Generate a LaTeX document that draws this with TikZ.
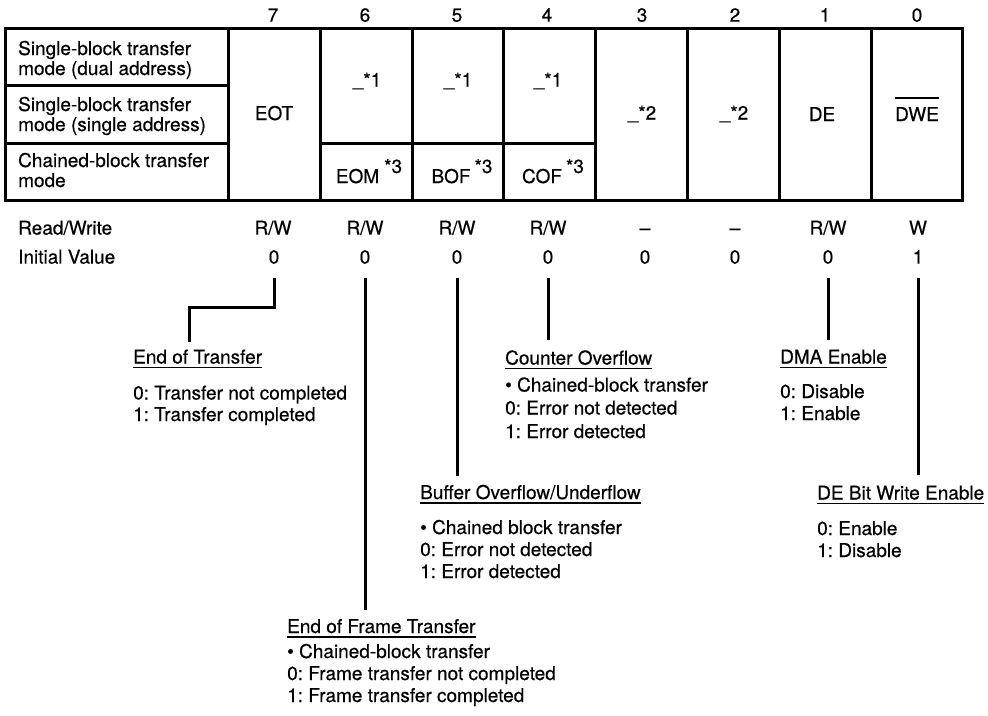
\documentclass[tikz,border=0pt]{standalone}
\usepackage{fontspec}
\setmainfont[FakeBold=0.45]{TeX Gyre Heros}
\frenchspacing
\begin{document}
\begin{tikzpicture}[x=1pt,y=-1pt,
  every node/.style={inner sep=0pt, font=\fontsize{19}{20}\selectfont},
  ctext/.style={anchor=base},
  ltext/.style={anchor=base west},
  gridline/.style={line width=3pt},
  conn/.style={line width=3pt},
  uline/.style={line width=1.5pt}]
\useasboundingbox (0,0) rectangle (988,715);

% ---- register table frame ----
\draw[gridline] (5,28) rectangle (962,200);
\foreach \x in {228,320,412,503,595,687,779,871}
  \draw[gridline] (\x,28) -- (\x,200);
\draw[gridline] (5,85) -- (228,85);
\draw[gridline] (5,143) -- (228,143);
\draw[gridline] (320,143) -- (595,143);

% ---- bit numbers ----
\foreach \b/\x in {7/273,6/365,5/457,4/547,3/642,2/735,1/825,0/917}
  \node[ctext] (h\b) at (\x,21.7) {\b};

% ---- mode labels ----
\node[ltext] (m1a) at (18,55) {Single-block transfer};
\node[ltext] (m1b) at (18,75) {mode (dual address)};
\node[ltext] (m2a) at (18,111) {Single-block transfer};
\node[ltext] (m2b) at (18,131) {mode (single address)};
\node[ltext] (m3a) at (18,167) {Chained-block transfer};
\node[ltext] (m3b) at (18,187) {mode};

% ---- bit cells ----
\node[ctext] (eot) at (274,120) {EOT};
\node[ctext] (c6) at (367,88) {\raisebox{2pt}{\_}\raisebox{1.5pt}{*1}};
\node[ctext] (c5) at (458,88) {\raisebox{2pt}{\_}\raisebox{1.5pt}{*1}};
\node[ctext] (c4) at (548,88) {\raisebox{2pt}{\_}\raisebox{1.5pt}{*1}};
\node[ctext] (eom) at (369,183) {EOM\hspace{5pt}\raisebox{10pt}{*3}};
\node[ctext] (bof) at (462,183) {BOF\hspace{4pt}\raisebox{10pt}{*3}};
\node[ctext] (cof) at (553,183) {COF\hspace{4pt}\raisebox{10pt}{*3}};
\node[ctext] (c3) at (642,121) {\raisebox{2pt}{\_}\raisebox{1.5pt}{*2}};
\node[ctext] (c2) at (734,121) {\raisebox{2pt}{\_}\raisebox{1.5pt}{*2}};
\node[ctext] (de) at (822,121) {DE};
\node[ctext] (dwe) at (917,121) {DWE};
\draw[uline] ([yshift=9pt]dwe.north west) -- ([yshift=9pt]dwe.north east);

% ---- access and initial value rows ----
\node[ltext] (rwl) at (18,234.6) {Read/Write};
\node[ltext] (ivl) at (18,263.6) {Initial Value};
\node[ctext] (rw7) at (273,234.6) {R/W};
\node[ctext] (rw6) at (365,234.6) {R/W};
\node[ctext] (rw5) at (457,234.6) {R/W};
\node[ctext] (rw4) at (548,234.6) {R/W};
\node[ctext] (rw3) at (645,234.6) {–};
\node[ctext] (rw2) at (735,234.6) {–};
\node[ctext] (rw1) at (828,234.6) {R/W};
\node[ctext] (rw0) at (918,234.6) {W};
\node[ctext] (iv7) at (274,263.6) {0};
\node[ctext] (iv6) at (365,263.6) {0};
\node[ctext] (iv5) at (457,263.6) {0};
\node[ctext] (iv4) at (548,263.6) {0};
\node[ctext] (iv3) at (645,263.6) {0};
\node[ctext] (iv2) at (735,263.6) {0};
\node[ctext] (iv1) at (828,263.6) {0};
\node[ctext] (iv0) at (918,263.6) {1};

% ---- bit descriptions ----
\node[ltext] (t7) at (133,363.5) {End of Transfer};
\node[ltext] (t7a) at (133,399.5) {0: Transfer not completed};
\node[ltext] (t7b) at (133,421) {1: Transfer completed};

\node[ltext] (t4) at (505,364.5) {Counter Overflow};
\node[ltext] (t4a) at (505,391.5) {\textbullet\ Chained-block transfer};
\node[ltext] (t4b) at (505,414.5) {0: Error not detected};
\node[ltext] (t4c) at (505,438) {1: Error detected};

\node[ltext] (t1) at (780,363.5) {DMA Enable};
\node[ltext] (t1a) at (780,398) {0: Disable};
\node[ltext] (t1b) at (780,420) {1: Enable};

\node[ltext] (t5) at (420,499) {Buffer Overflow/Underflow};
\node[ltext] (t5a) at (420,534) {\textbullet\ Chained block transfer};
\node[ltext] (t5b) at (420,556) {0: Error not detected};
\node[ltext] (t5c) at (420,578) {1: Error detected};

\node[ltext] (t0) at (817,499.5) {DE Bit Write Enable};
\node[ltext] (t0a) at (817,535) {0: Enable};
\node[ltext] (t0b) at (817,557) {1: Disable};

\node[ltext] (t6) at (287,633) {End of Frame Transfer};
\node[ltext] (t6a) at (287,658) {\textbullet\ Chained-block transfer};
\node[ltext] (t6b) at (287,680) {0: Frame transfer not completed};
\node[ltext] (t6c) at (287,702) {1: Frame transfer completed};

\foreach \t in {t7,t4,t1,t5,t0,t6}
  \draw[uline] ([yshift=-4pt]\t.base west) -- ([yshift=-4pt]\t.base east);

% ---- leader lines from the initial values ----
\coordinate (e7) at (189,342);
\coordinate (e6) at (365,610);
\coordinate (e5) at (457,476);
\coordinate (e4) at (548,340);
\coordinate (e1) at (828,340);
\coordinate (e0) at (918,475);
\draw[conn] ([yshift=-14.4pt]iv7.base) -- ++(0,29) -| (e7);
\draw[conn] ([yshift=-14.4pt]iv6.base) -- (e6);
\draw[conn] ([yshift=-14.4pt]iv5.base) -- (e5);
\draw[conn] ([yshift=-14.4pt]iv4.base) -- (e4);
\draw[conn] ([yshift=-14.4pt]iv1.base) -- (e1);
\draw[conn] ([yshift=-14.4pt]iv0.base) -- (e0);
\end{tikzpicture}
\end{document}
